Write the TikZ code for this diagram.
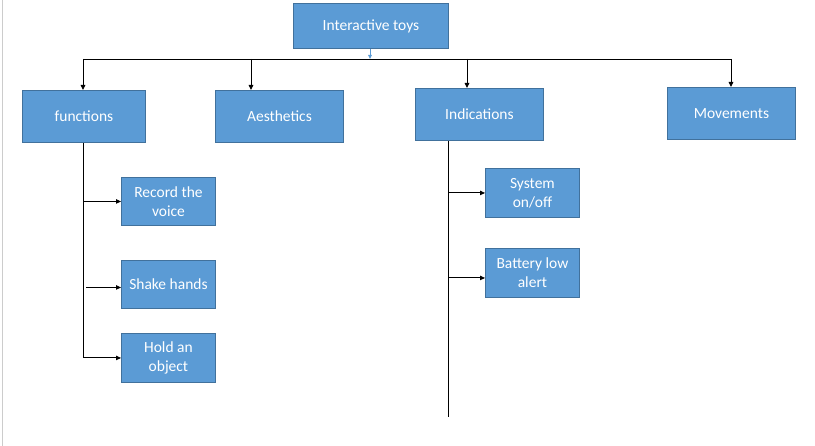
\documentclass[tikz,border=0pt]{standalone}
\usepackage{fontspec}
\setmainfont{Carlito}
\usetikzlibrary{arrows.meta,calc}
\definecolor{boxfill}{HTML}{5B9BD5}
\definecolor{boxline}{HTML}{41719C}
\definecolor{linkblue}{HTML}{5B9BD5}
\tikzset{
  box/.style={draw=boxline, fill=boxfill, line width=0.9pt, text=white, align=center,
    font=\fontsize{15.5}{19}\selectfont, inner sep=0pt, anchor=north west},
  arr/.style={draw=black, line width=0.9pt, -{Triangle[length=5pt,width=4.5pt]}},
  plain/.style={draw=black, line width=0.9pt},
}
\begin{document}
\begin{tikzpicture}[x=1pt,y=-1pt]
\useasboundingbox (0,0) rectangle (815,446);
\draw[color=black!20, line width=1pt] (2.5,0) -- (2.5,446);
% nodes
\node[box, minimum width=155pt, minimum height=45pt] (top) at (293,3) {Interactive toys};
\node[box, minimum width=123pt, minimum height=52pt] (func) at (22,90) {functions};
\node[box, minimum width=128pt, minimum height=52pt] (aest) at (215,90) {Aesthetics};
\node[box, minimum width=128pt, minimum height=52pt] (indi) at (415,88) {Indications};
\node[box, minimum width=128pt, minimum height=52pt] (move) at (667,87) {Movements};
\node[box, minimum width=94pt, minimum height=48pt] (rec) at (121,177) {Record the\\voice};
\node[box, minimum width=94pt, minimum height=48pt] (shake) at (121,260) {Shake hands};
\node[box, minimum width=94pt, minimum height=49pt] (hold) at (121,333) {Hold an\\object};
\node[box, minimum width=94pt, minimum height=49pt] (sys) at (485,168) {System\\on/off};
\node[box, minimum width=94pt, minimum height=49pt] (bat) at (485,248) {Battery low\\alert};
% bus
\coordinate (bus) at (370,59);
\coordinate (b1) at (83,59);
\coordinate (b2) at (251,59);
\coordinate (b3) at (467,59);
\coordinate (b4) at (731,59);
\draw[line width=0.9pt, draw=linkblue, -{Triangle[length=4pt,width=3.5pt]}] (top.south -| bus) -- (bus);
\draw[plain] (b1) -- (b4);
\draw[arr] (b1) -- (b1 |- func.north);
\draw[arr] (b2) -- (b2 |- aest.north);
\draw[arr] (b3) -- (b3 |- indi.north);
\draw[arr] (b4) -- (b4 |- move.north);
% functions trunk
\coordinate (ft) at (83,357.5);
\draw[plain] (func.south -| ft) -- (ft);
\draw[arr] (rec.west -| ft) -- (rec.west);
\draw[arr] ($(shake.west -| ft)+(3,3)$) -- ($(shake.west)+(0,3)$);
\draw[arr] (hold.west -| ft) -- (hold.west);
% indications trunk
\coordinate (it) at (448,417);
\draw[plain] (indi.south -| it) -- (it);
\draw[arr] (sys.west -| it) -- (sys.west);
\draw[arr] ($(bat.west -| it)+(0,5)$) -- ($(bat.west)+(0,5)$);
\end{tikzpicture}
\end{document}
